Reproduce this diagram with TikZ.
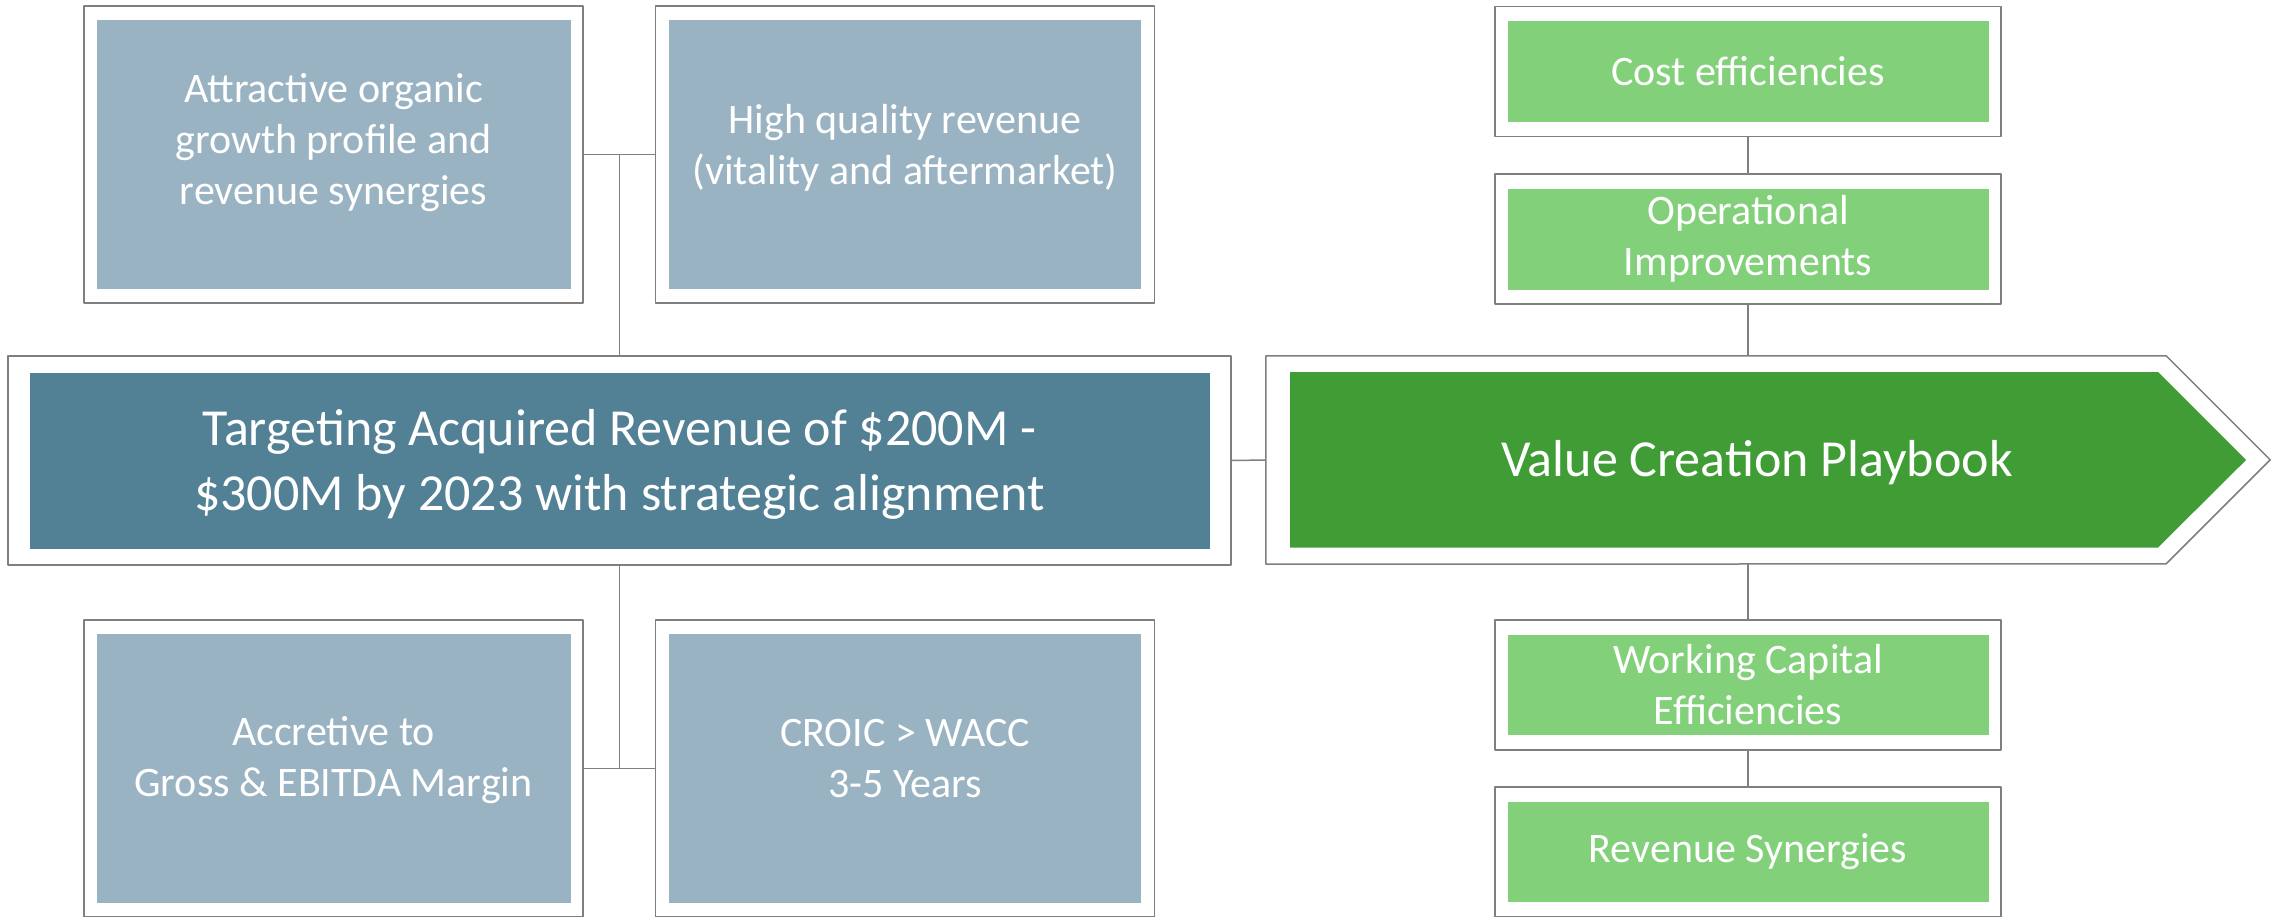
\documentclass[tikz,border=0pt]{standalone}
\usepackage{fontspec}
\setmainfont{Carlito}
\usetikzlibrary{positioning}
\definecolor{framegray}{RGB}{127,127,127}
\definecolor{slate}{RGB}{154,179,194}
\definecolor{steel}{RGB}{82,128,149}
\definecolor{leaf}{RGB}{64,156,53}
\definecolor{mint}{RGB}{130,209,122}
\begin{document}
\begin{tikzpicture}[x=1pt,y=-1pt,line join=round,
		frame/.style={draw=framegray,line width=1.5pt,fill=white,inner sep=0pt},
		tile/.style={inner sep=0pt,text=white,align=center,font=\fontsize{42}{51}\selectfont},
		caption/.style={text=white,align=center,font=\fontsize{42}{51}\selectfont},
		link/.style={draw=framegray,line width=1.5pt}]
	\useasboundingbox (0,0) rectangle (2282,916);
	\clip (0,0) rectangle (2282,916);
	% left column
	\node[frame,minimum width=499pt,minimum height=297pt] (organic) at (333.5,154.5) {};
	\node[tile,fill=slate,minimum width=474pt,minimum height=269pt] (organic t) at (organic) {};
	\node[caption] (organic x) at (333.5,142.5) {Attractive organic\\growth profile and\\revenue synergies};
	\node[frame,minimum width=499pt,minimum height=297pt] (quality) at (905,154.5) {};
	\node[tile,fill=slate,minimum width=472pt,minimum height=269pt] (quality t) at (quality) {};
	\node[caption] (quality x) at (905,147.5) {High quality revenue\\(vitality and aftermarket)};
	\node[frame,minimum width=1223pt,minimum height=209pt] (target) at (619.5,460.5) {};
	\node[tile,fill=steel,minimum width=1180pt,minimum height=176pt] (target t) at (target) {};
	\node[caption,font=\fontsize{52}{65}\selectfont] (target x) at (619.5,464) {Targeting Acquired Revenue of \$200M -\\\$300M by 2023 with strategic alignment};
	\node[frame,minimum width=499pt,minimum height=297pt] (accretive) at (333.5,768.5) {};
	\node[tile,fill=slate,minimum width=474pt,minimum height=269pt] (accretive t) at (accretive) {};
	\node[caption] (accretive x) at (333.5,760.5) {Accretive to\\Gross \& EBITDA Margin};
	\node[frame,minimum width=499pt,minimum height=297pt] (croic) at (905,768.5) {};
	\node[tile,fill=slate,minimum width=472pt,minimum height=269pt] (croic t) at (croic) {};
	\node[caption] (croic x) at (905,758.5) {CROIC > WACC\\3-5 Years};
	% playbook arrow
	\node[inner sep=0pt,minimum width=900pt,minimum height=208pt] (play) at (1716,460) {};
	\draw[frame] (play.north west) -- (play.north east) -- ++(104,104) -- ++(-104,104) -- (play.south west) -- cycle;
	\fill[leaf] (1290,372) -- (2158,372) -- (2246,460) -- (2158,547.5) -- (1290,547.5) -- cycle;
	\node[text=white,font=\fontsize{52}{62}\selectfont] (play t) at (1757,463) {Value Creation Playbook};
	% right column
	\node[frame,minimum width=506pt,minimum height=130pt] (cost) at (1748,71.5) {};
	\node[tile,fill=mint,minimum width=481pt,minimum height=101pt] (cost t) at (cost) {Cost efficiencies};
	\node[frame,minimum width=506pt,minimum height=130pt] (ops) at (1748,239) {};
	\node[tile,fill=mint,minimum width=481pt,minimum height=101pt] (ops t) at (ops) {Operational\\Improvements};
	\node[frame,minimum width=506pt,minimum height=130pt] (wcap) at (1748,685) {};
	\node[tile,fill=mint,minimum width=481pt,minimum height=100pt] (wcap t) at (wcap) {Working Capital\\Efficiencies};
	\node[frame,minimum width=506pt,minimum height=130pt] (revsyn) at (1748,852) {};
	\node[tile,fill=mint,minimum width=481pt,minimum height=100pt] (revsyn t) at (revsyn) {Revenue Synergies};
	% connectors
	\draw[link] (organic.east) -- (quality.west);
	\draw[link] (target.north) -- (target.north |- organic.east);
	\draw[link] (accretive.east) -- (croic.west);
	\draw[link] (target.south) -- (target.south |- accretive.east);
	\draw[link] (target.east) -- (play.west);
	\draw[link] (cost.south) -- (ops.north);
	\draw[link] (ops.south) -- (ops.south |- play.north);
	\draw[link] (wcap.north) -- (wcap.north |- play.south);
	\draw[link] (wcap.south) -- (revsyn.north);
\end{tikzpicture}
\end{document}
